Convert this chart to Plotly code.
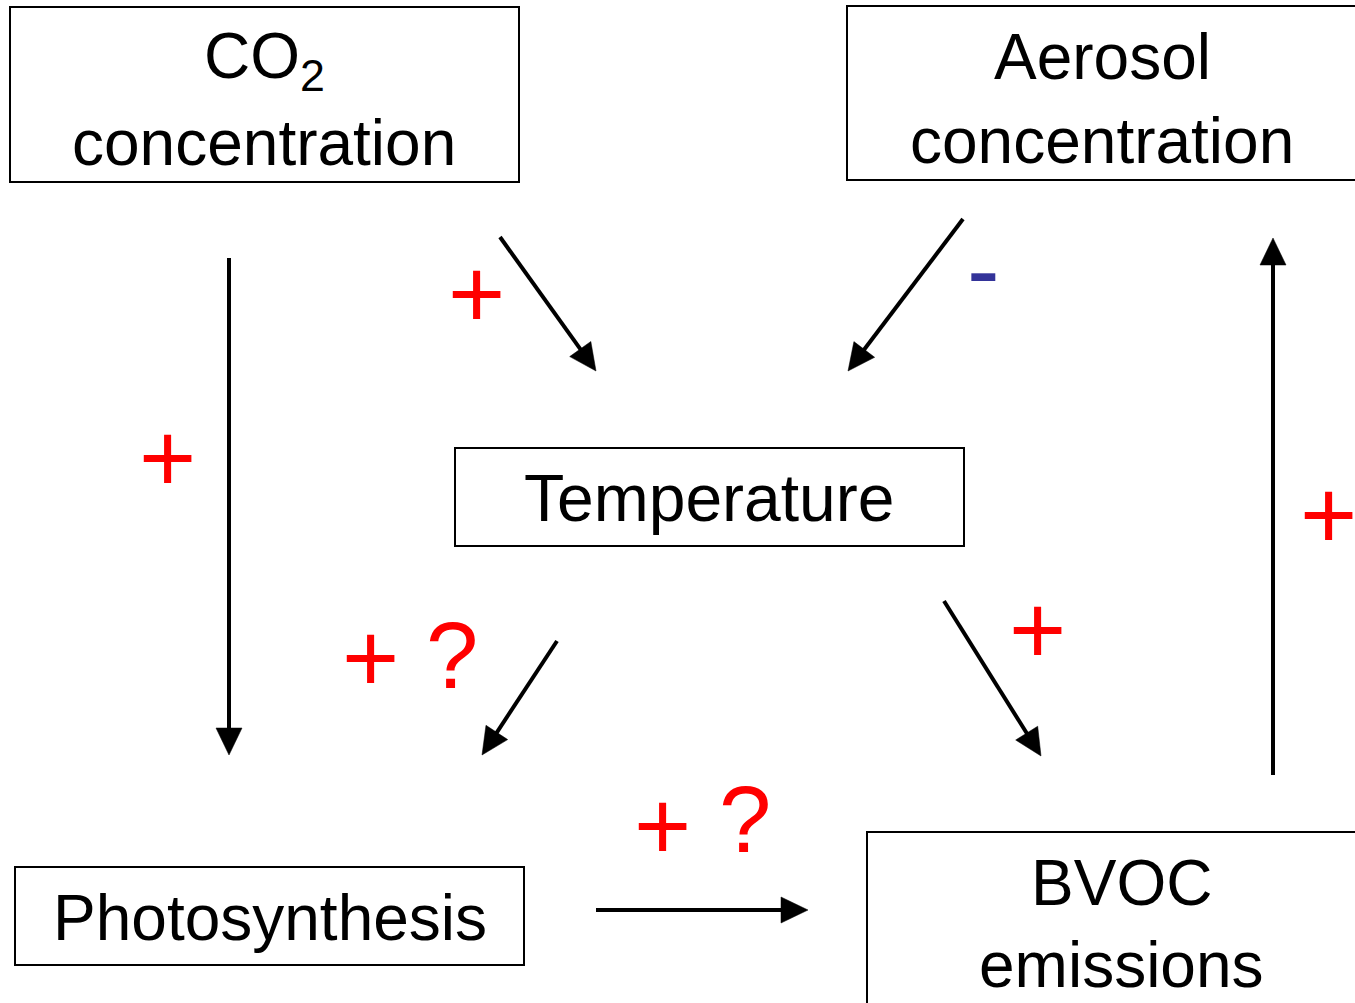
import math
import plotly.graph_objects as go

# ---- diagram content ----
node_names = ["co2", "aerosol", "temp", "photo", "bvoc"]
node_lines = [
    ["CO<sub>2</sub>", "concentration"],
    ["Aerosol", "concentration"],
    ["Temperature"],
    ["Photosynthesis"],
    ["BVOC", "emissions"],
]
edge_from = ["co2", "co2", "aerosol", "temp", "temp", "photo", "bvoc"]
edge_to = ["photo", "temp", "temp", "photo", "bvoc", "bvoc", "aerosol"]
edge_sign = ["+", "+", "-", "+ ?", "+", "+ ?", "+"]

# ---- layout (pixel space, y downward) ----
W, H = 1355, 1003
box = {
    "co2": (10, 519, 7, 182),
    "aerosol": (847, 1360, 6, 180),
    "temp": (455, 964, 448, 546),
    "photo": (15, 524, 867, 965),
    "bvoc": (867, 1380, 832, 1010),
}
text_pos = {
    "co2": [(264, 60), (264, 143)],
    "aerosol": [(1102, 57), (1102, 141)],
    "temp": [(709, 498)],
    "photo": [(270, 918)],
    "bvoc": [(1121, 883), (1121, 965)],
}
arrow_xy = [
    ((229, 258), (229, 755)),
    ((500, 237), (596, 371)),
    ((963, 219), (848, 371)),
    ((557, 641), (482, 755)),
    ((944, 601), (1041, 756)),
    ((596, 910), (808, 910)),
    ((1273, 775), (1273, 238)),
]
sign_pos = [
    [(167, 458)],
    [(476, 294)],
    [(983, 269)],
    [(370, 658), (452, 655)],
    [(1037, 630)],
    [(662, 826), (745, 819)],
    [(1328, 515)],
]

FONT = "Liberation Sans, Arial, sans-serif"
fig = go.Figure()

# boxes
for n in node_names:
    x0, x1, y0, y1 = box[n]
    fig.add_shape(type="rect", x0=x0, x1=x1, y0=y0, y1=y1,
                  line=dict(color="black", width=2), fillcolor="rgba(0,0,0,0)",
                  layer="below")

# node texts
for n, lines in zip(node_names, node_lines):
    size = 66 if n == "temp" else 64
    for (tx, ty), t in zip(text_pos[n], lines):
        fig.add_annotation(x=tx, y=ty, text=t, showarrow=False,
                           xanchor="center", yanchor="middle",
                           font=dict(family=FONT, size=size, color="black"))

# arrows
HEAD_L, HEAD_W = 27, 26
for (p0, p1) in arrow_xy:
    (x0, y0), (x1, y1) = p0, p1
    dx, dy = x1 - x0, y1 - y0
    L = math.hypot(dx, dy)
    ux, uy = dx / L, dy / L
    bx, by = x1 - ux * HEAD_L, y1 - uy * HEAD_L
    px, py = -uy, ux
    fig.add_trace(go.Scatter(x=[x0, bx + ux * 2], y=[y0, by + uy * 2], mode="lines",
                             line=dict(color="black", width=4),
                             hoverinfo="skip", showlegend=False))
    fig.add_trace(go.Scatter(
        x=[x1, bx + px * HEAD_W / 2, bx - px * HEAD_W / 2, x1],
        y=[y1, by + py * HEAD_W / 2, by - py * HEAD_W / 2, y1],
        mode="lines", fill="toself", fillcolor="black",
        line=dict(color="black", width=0.5),
        hoverinfo="skip", showlegend=False))

# signs
for sign, poss in zip(edge_sign, sign_pos):
    glyphs = sign.split(" ")
    for g, (sx, sy) in zip(glyphs, poss):
        col = "#333399" if g == "-" else "#FF0000"
        size = 94 if g == "?" else 98
        fig.add_annotation(x=sx, y=sy, text=g, showarrow=False,
                           xanchor="center", yanchor="middle",
                           font=dict(family=FONT, size=size, color=col))

fig.update_xaxes(range=[0, W], visible=False, fixedrange=True)
fig.update_yaxes(range=[H, 0], visible=False, fixedrange=True)
fig.update_layout(width=W, height=H, margin=dict(l=0, r=0, t=0, b=0),
                  paper_bgcolor="white", plot_bgcolor="white", showlegend=False)
fig.write_html("out.html", config={"displayModeBar": False},
               post_script="document.body.style.margin='0';document.body.style.overflow='hidden';")
